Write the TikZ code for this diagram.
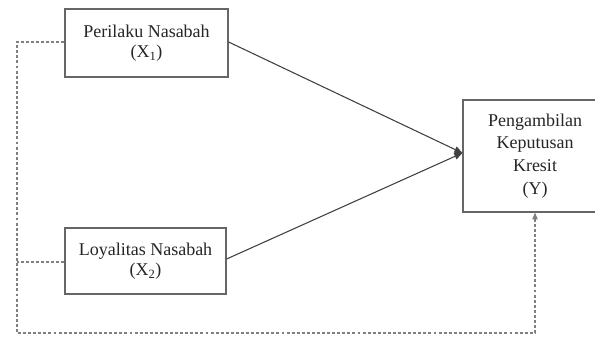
\documentclass[tikz,border=0pt]{standalone}
\usepackage{fontspec}
\setmainfont{Liberation Serif}
\usetikzlibrary{arrows.meta}
\begin{document}
\begin{tikzpicture}[x=0.75pt,y=-0.75pt,
  varbox/.style={draw=black!60, line width=0.9pt, fill=white, text=black!85,
    align=center, inner sep=0pt, font=\fontsize{13.5}{15}\selectfont},
  path/.style={draw=black!75, line width=0.8pt, -{Triangle[length=6pt,width=5pt]}},
  link/.style={draw=black!50, line width=0.8pt, dash pattern=on 2.2pt off 1.6pt}]
  \clip (0,0) rectangle (595,342);
  \fill[white] (0,0) rectangle (595,342);
  \node[varbox, minimum width=163*0.75pt, minimum height=68*0.75pt] (x1) at (146.5,43) {Perilaku Nasabah\\(X\textsubscript{1})};
  \node[varbox, minimum width=161*0.75pt, minimum height=66*0.75pt] (x2) at (145.5,261) {Loyalitas Nasabah\\(X\textsubscript{2})};
  \node[varbox, minimum width=144*0.75pt, minimum height=112*0.75pt,
    font=\fontsize{13.5}{17}\selectfont] (y) at (535,156) {Pengambilan\\Keputusan\\Kresit\\(Y)};
  \coordinate (c1) at (17,42);
  \coordinate (c2) at (17,262);
  \coordinate (c3) at (17,333);
  \coordinate (c4) at (535,333);
  \draw[path] (x1.east |- 0,42) -- (y.west |- 0,153);
  \draw[path] (x2.east |- 0,259) -- (y.west |- 0,153);
  \draw[link] (x1.west |- c1) -- (c1) -- (c3) -- (c4);
  \draw[link, -{Triangle[length=5pt,width=4pt]}] (c4) -- (y.south);
  \draw[link] (x2.west |- c2) -- (c2);
\end{tikzpicture}
\end{document}
